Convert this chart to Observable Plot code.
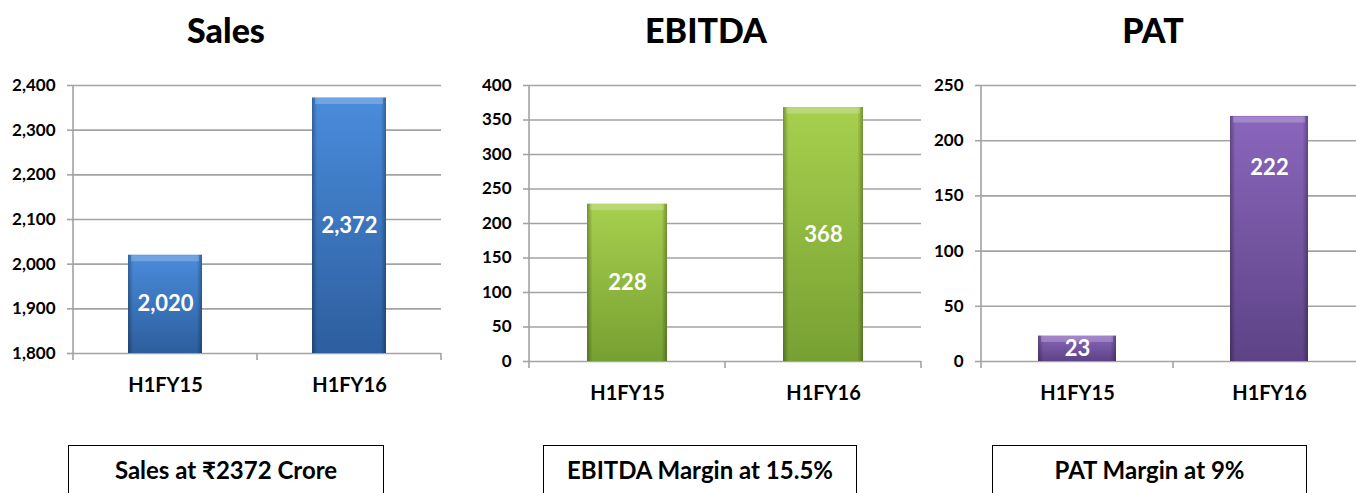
<!DOCTYPE html>
<html><head><meta charset="utf-8">
<script src="https://cdn.jsdelivr.net/npm/d3@7"></script>
<script src="https://cdn.jsdelivr.net/npm/@observablehq/plot@0.6"></script>
<style>
body{margin:0;background:#fff;font-family:Lato,"Open Sans",sans-serif;}
#wrap{position:relative;width:1356px;height:493px;overflow:hidden;background:#fff;}
.panel{position:absolute;top:0;}
.panel svg{max-width:none !important;}
.title{position:absolute;top:10px;font-weight:900;font-size:34px;line-height:40px;transform:translateX(-50%);white-space:nowrap;color:#000;}
.box{position:absolute;top:445px;height:70px;border:1.5px solid #000;box-sizing:border-box;font-weight:700;font-size:24px;line-height:28px;text-align:center;padding-top:10px;color:#000;white-space:nowrap;}
</style></head>
<body>
<svg width="0" height="0" style="position:absolute">
  <defs>
    <linearGradient id="gSales" x1="0" y1="0" x2="0" y2="1">
      <stop offset="0" stop-color="#4a8cdc"/><stop offset="1" stop-color="#2d5e9e"/>
    </linearGradient>
    <linearGradient id="gEbitda" x1="0" y1="0" x2="0" y2="1">
      <stop offset="0" stop-color="#a8d04e"/><stop offset="1" stop-color="#76a032"/>
    </linearGradient>
    <linearGradient id="gPat" x1="0" y1="0" x2="0" y2="1">
      <stop offset="0" stop-color="#8a66bc"/><stop offset="1" stop-color="#5d4386"/>
    </linearGradient>
    <linearGradient id="gEdge" x1="0" y1="0" x2="1" y2="0">
      <stop offset="0" stop-color="#000" stop-opacity="0.3"/>
      <stop offset="0.07" stop-color="#000" stop-opacity="0"/>
      <stop offset="0.93" stop-color="#000" stop-opacity="0"/>
      <stop offset="1" stop-color="#000" stop-opacity="0.3"/>
    </linearGradient>
  </defs>
</svg>
<div id="wrap"></div>
<script>
const categories = ["H1FY15", "H1FY16"];
const salesValues = [2020, 2372];
const ebitdaValues = [228, 368];
const patValues = [23, 222];
const salesTicks = [1800, 1900, 2000, 2100, 2200, 2300, 2400];
const ebitdaTicks = [0, 50, 100, 150, 200, 250, 300, 350, 400];
const patTicks = [0, 50, 100, 150, 200, 250];
const titles = ["Sales", "EBITDA", "PAT"];
const captions = ["Sales at \u20B92372 Crore", "EBITDA Margin at 15.5%", "PAT Margin at 9%"];

const panels = [
  {values: salesValues, ticks: salesTicks, grad: "gSales", left: 0, width: 460, mL: 73, mR: 19, mB: 47, inset: 55, labelFrac: [0.5, 0.5], tickPad: 24,
   titleX: 226, box: [68, 384]},
  {values: ebitdaValues, ticks: ebitdaTicks, grad: "gEbitda", left: 460, width: 470, mL: 69, mR: 9, mB: 39, inset: 58, labelFrac: [0.5, 0.5], tickPad: 24,
   titleX: 706, box: [543, 857]},
  {values: patValues, ticks: patTicks, grad: "gPat", left: 900, width: 466, mL: 81, mR: 1, mB: 39, inset: 57, labelFrac: [0.5, 0.79], tickPad: 24,
   titleX: 1153, box: [992, 1307]}
];

const wrap = d3.select("#wrap");
const grid = "#a3a3a3";
const fmt = d3.format(",");

panels.forEach((p, k) => {
  const base = p.ticks[0];
  const data = categories.map((c, i) => ({cat: c, value: p.values[i], ly: base + (p.values[i] - base) * p.labelFrac[i]}));
  const plot = Plot.plot({
    width: p.width, height: 400,
    marginTop: 85, marginLeft: p.mL, marginRight: p.mR, marginBottom: p.mB,
    style: {background: "transparent", fontFamily: "Lato, 'Open Sans', sans-serif", overflow: "visible", maxWidth: "none"},
    x: {domain: categories, padding: 0, axis: null},
    y: {domain: [p.ticks[0], p.ticks[p.ticks.length - 1]], axis: null},
    marks: [
      Plot.gridY(p.ticks, {stroke: grid, strokeOpacity: 1, strokeWidth: 1.6}),
      Plot.axisY(p.ticks, {tickSize: 6, tickPadding: 12, stroke: grid, strokeWidth: 1.6, fill: "#000",
        fontSize: 17, fontWeight: 700, tickFormat: fmt, label: null}),
      Plot.barY(data, {x: "cat", y1: base, y2: "value", fill: `url(#${p.grad})`, insetLeft: p.inset, insetRight: p.inset}),
      Plot.barY(data, {x: "cat", y1: base, y2: "value", fill: "url(#gEdge)", insetLeft: p.inset, insetRight: p.inset}),
      Plot.tickY(data, {x: "cat", y: "value", stroke: "#fff", strokeOpacity: 0.22, strokeWidth: 6, dy: 3, insetLeft: p.inset + 3, insetRight: p.inset + 3}),
      Plot.text(data, {x: "cat", y: "ly", text: d => fmt(d.value), fill: "#fff", fontSize: 22, fontWeight: 700}),
      Plot.axisX({tickSize: 0, tickPadding: p.tickPad, fill: "#000", fontSize: 20, fontWeight: 700, label: null})
    ]
  });
  // axis line and band boundary ticks from the library's scales
  const sx = plot.scale("x"), sy = plot.scale("y");
  const svg = d3.select(plot);
  const x0 = sx.range[0], yb = sy.range[0], yt = sy.range[1];
  svg.append("line").attr("x1", x0).attr("x2", x0).attr("y1", yt).attr("y2", yb + 7)
    .attr("stroke", grid).attr("stroke-width", 1.6);
  for (let i = 1; i <= categories.length; i++) {
    const xi = x0 + i * sx.step;
    svg.append("line").attr("x1", xi).attr("x2", xi).attr("y1", yb).attr("y2", yb + 7)
      .attr("stroke", grid).attr("stroke-width", 1.6);
  }
  const div = wrap.append("div").attr("class", "panel").style("left", p.left + "px").style("z-index", 3 - k);
  div.node().appendChild(plot);
  wrap.append("div").attr("class", "title").style("left", p.titleX + "px").text(titles[k]);
  wrap.append("div").attr("class", "box").style("left", p.box[0] + "px").style("width", (p.box[1] - p.box[0]) + "px").text(captions[k]);
});
</script>
</body></html>
